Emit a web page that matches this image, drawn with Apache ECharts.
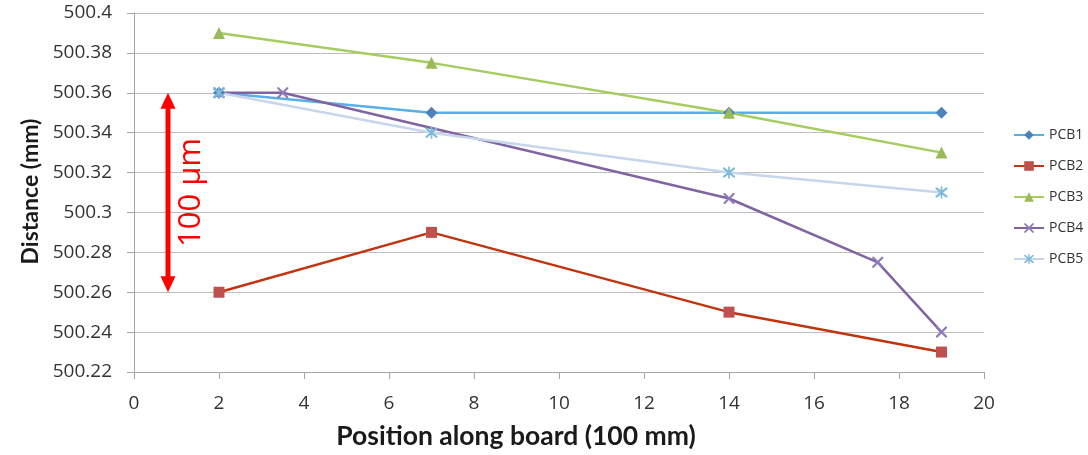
<!DOCTYPE html>
<html><head><meta charset="utf-8">
<script src="https://cdn.jsdelivr.net/npm/echarts@6/dist/echarts.min.js"></script>
<style>html,body{margin:0;padding:0;background:#fff}#c{width:1088px;height:455px}</style>
</head><body><div id="c"></div>
<script>
// ---- data ----
const seriesNames = ['PCB1', 'PCB2', 'PCB3', 'PCB4', 'PCB5'];
const pcb1X = [2, 7, 14, 19];
const pcb1Y = [500.36, 500.35, 500.35, 500.35];
const pcb2X = [2, 7, 14, 19];
const pcb2Y = [500.26, 500.29, 500.25, 500.23];
const pcb3X = [2, 7, 14, 19];
const pcb3Y = [500.39, 500.375, 500.35, 500.33];
const pcb4X = [2, 3.5, 14, 17.5, 19];
const pcb4Y = [500.36, 500.36, 500.307, 500.275, 500.24];
const pcb5X = [2, 7, 14, 19];
const pcb5Y = [500.36, 500.34, 500.32, 500.31];
const xMin = 0, xMax = 20, xStep = 2;
const yMin = 500.22, yMax = 500.4, yStep = 0.02;
const xTitle = 'Position along board (100 mm)';
const yTitle = 'Distance (mm)';
const annotText = '100 µm';
const annotX = 0.8, annotTop = 500.36, annotBottom = 500.26;

// ---- styles ----
const lineColors = ['#5AB0E6', '#C0340F', '#A6CB5E', '#8064A2', '#C8D6EB'];
const markColors = ['#4F81BD', '#C0504D', '#9BBB59', '#8E7AB8', '#7DBBD8'];
const xPath = 'path://M0,0 L1.4,0 L5,3.6 L8.6,0 L10,0 L10,1.4 L6.4,5 L10,8.6 L10,10 L8.6,10 L5,6.4 L1.4,10 L0,10 L0,8.6 L3.6,5 L0,1.4 Z';
const starPath = 'path://M0,0 L1.4,0 L5,3.6 L8.6,0 L10,0 L10,1.4 L6.4,5 L10,8.6 L10,10 L8.6,10 L5,6.4 L1.4,10 L0,10 L0,8.6 L3.6,5 L0,1.4 Z M4.3,-1 L5.7,-1 L5.7,11 L4.3,11 Z';
const symbols = ['diamond', 'rect', 'triangle', xPath, starPath];
const symbolSizes = [12, 11, 12, 11, 12];

const xs = [pcb1X, pcb2X, pcb3X, pcb4X, pcb5X];
const ys = [pcb1Y, pcb2Y, pcb3Y, pcb4Y, pcb5Y];
const FONT = 'Open Sans';
const TFONT = 'Lato';

const chart = echarts.init(document.getElementById('c'));
const series = seriesNames.map((n, i) => ({
  name: n,
  type: 'line',
  data: xs[i].map((x, k) => [x, ys[i][k]]),
  symbol: symbols[i],
  symbolSize: symbolSizes[i],
  showSymbol: true,
  showAllSymbol: true,
  lineStyle: { color: lineColors[i], width: 2.5 },
  itemStyle: { color: markColors[i] },
  emphasis: { disabled: true },
  animation: false
}));

chart.setOption({
  animation: false,
  backgroundColor: '#fff',
  grid: { left: 134, right: 104, top: 13, bottom: 82, containLabel: false },
  legend: {
    orient: 'vertical',
    left: 1008,
    top: 123,
    itemWidth: 30,
    itemHeight: 12,
    itemGap: 17,
    textStyle: { fontFamily: FONT, fontSize: 14, color: '#333' },
    data: seriesNames
  },
  xAxis: {
    type: 'value', min: xMin, max: xMax, interval: xStep,
    name: xTitle, nameLocation: 'middle', nameGap: 51,
    nameTextStyle: { fontFamily: TFONT, fontSize: 26.5, fontWeight: 'bold', color: '#1a1a1a', padding: [0, 86, 0, 0] },
    axisLine: { show: true, lineStyle: { color: '#A6A6A6', width: 1 } },
    axisTick: { show: true, length: 7, lineStyle: { color: '#A6A6A6' } },
    axisLabel: { fontFamily: FONT, fontSize: 19, color: '#333', margin: 22 },
    splitLine: { show: false }
  },
  yAxis: {
    type: 'value', min: yMin, max: yMax, interval: yStep,
    name: yTitle, nameLocation: 'middle', nameGap: 92, nameRotate: 90,
    nameTextStyle: { fontFamily: TFONT, fontSize: 23, fontWeight: 'bold', color: '#1a1a1a', padding: [0, 0, 0, 2] },
    axisLine: { show: true, lineStyle: { color: '#A6A6A6', width: 1 } },
    axisTick: { show: true, length: 7, lineStyle: { color: '#A6A6A6' } },
    axisLabel: {
      fontFamily: FONT, fontSize: 19, color: '#333', margin: 22,
      formatter: v => String(parseFloat(v.toFixed(3)))
    },
    splitLine: { show: true, lineStyle: { color: '#BFBFBF', width: 1 } }
  },
  series: series
});

// annotation: red double arrow with rotated label, positioned in data coordinates
const pTop = chart.convertToPixel({ gridIndex: 0 }, [annotX, annotTop]);
const pBot = chart.convertToPixel({ gridIndex: 0 }, [annotX, annotBottom]);
const ax = pTop[0], head = 16, hw = 7.5;
chart.setOption({
  graphic: [
    { type: 'line', shape: { x1: ax, y1: pTop[1] + head - 2, x2: ax, y2: pBot[1] - head + 2 },
      style: { stroke: '#FF0000', lineWidth: 5 }, z: 100 },
    { type: 'polygon', shape: { points: [[ax, pTop[1]], [ax - hw, pTop[1] + head], [ax + hw, pTop[1] + head]] },
      style: { fill: '#FF0000' }, z: 100 },
    { type: 'polygon', shape: { points: [[ax, pBot[1]], [ax - hw, pBot[1] - head], [ax + hw, pBot[1] - head]] },
      style: { fill: '#FF0000' }, z: 100 },
    { type: 'text', x: ax + 23, y: (pTop[1] + pBot[1]) / 2, rotation: Math.PI / 2,
      style: { text: annotText, fill: '#FF0000', font: '31px "Open Sans"', textAlign: 'center', textVerticalAlign: 'middle' }, z: 100 }
  ]
});
</script>
</body></html>
